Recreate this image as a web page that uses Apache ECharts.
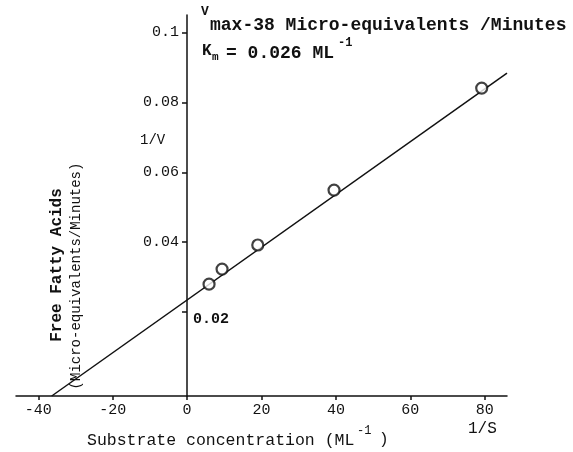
<!DOCTYPE html>
<html>
<head>
<meta charset="utf-8">
<script src="https://cdn.jsdelivr.net/npm/echarts@6/dist/echarts.min.js"></script>
<style>
  html, body { margin: 0; padding: 0; background: #fff; }
  #chart { width: 573px; height: 452px; }
</style>
</head>
<body>
<div id="chart"></div>
<script>
// measured points (1/S , 1/V)
const invS = [5.9, 9.4, 19, 39.5, 79.2];
const invV = [0.028, 0.0323, 0.0392, 0.0549, 0.0841];
// fitted line ends (the drawn x axis sits a bit below 1/V = 0)
const fitX = [-36.4, 86];
const fitY = [-0.004, 0.0884];
// tick labels
const xTicks = [-40, -20, 0, 20, 40, 60, 80];
const yTicks = [0.02, 0.04, 0.06, 0.08, 0.1];
const yLabels = [0.04, 0.06, 0.08, 0.1];
const yLabelsRight = [0.02];

const mono = '"Liberation Mono", "DejaVu Sans Mono", monospace';
const chart = echarts.init(document.getElementById('chart'));

// y axis sits at x = 0, i.e. 171px right of the grid's left edge
const yOff = -171;

chart.setOption({
  backgroundColor: '#fff',
  animation: false,
  grid: { left: 16, right: 66, top: 15, bottom: 56, outerBoundsMode: 'none', containLabel: false },
  xAxis: {
    type: 'value', min: -46, max: 86,
    splitLine: { show: false },
    axisLine: { onZero: false, lineStyle: { color: '#111', width: 1.5 } },
    axisTick: { customValues: xTicks, length: 4, lineStyle: { color: '#111', width: 1.5 } },
    axisLabel: { customValues: xTicks, color: '#111', fontFamily: mono, fontSize: 15, margin: 7 }
  },
  yAxis: [
    {
      type: 'value', min: -0.004, max: 0.105, position: 'left', offset: yOff,
      splitLine: { show: false },
      axisLine: { onZero: false, lineStyle: { color: '#111', width: 1.5 } },
      axisTick: { customValues: yTicks, length: 5, lineStyle: { color: '#111', width: 1.5 } },
      axisLabel: { customValues: yLabels, color: '#111', fontFamily: mono, fontSize: 15, margin: 8,
        formatter: v => String(+v.toFixed(3)) }
    },
    {
      type: 'value', min: -0.004, max: 0.105, position: 'left', offset: yOff,
      splitLine: { show: false },
      axisLine: { show: false, onZero: false },
      axisTick: { show: false },
      axisLabel: { customValues: yLabelsRight, inside: true, color: '#111', fontFamily: mono,
        fontSize: 15, fontWeight: 'bold', margin: 6, verticalAlign: 'top',
        formatter: v => String(+v.toFixed(3)) }
    }
  ],
  series: [
    {
      type: 'line', data: fitX.map((x, i) => [x, fitY[i]]),
      showSymbol: false, lineStyle: { color: '#111', width: 1.5 }, z: 2
    },
    {
      type: 'scatter', data: invS.map((x, i) => [x, invV[i]]),
      symbol: 'circle', symbolSize: 11,
      itemStyle: { color: '#fff', borderColor: '#111', borderWidth: 2.2 }, z: 3
    }
  ],
  graphic: [
    { type: 'text', x: 201, y: 5, style: { text: 'V', font: 'bold 13px ' + mono, fill: '#111' } },
    { type: 'text', x: 210, y: 16, style: { text: 'max-38 Micro-equivalents /Minutes', font: 'bold 18px ' + mono, fill: '#111' } },
    { type: 'text', x: 202, y: 43, style: { text: 'K', font: 'bold 16px ' + mono, fill: '#111' } },
    { type: 'text', x: 212, y: 52, style: { text: 'm', font: 'bold 11px ' + mono, fill: '#111' } },
    { type: 'text', x: 226, y: 44, style: { text: '= 0.026 ML', font: 'bold 18px ' + mono, fill: '#111' } },
    { type: 'text', x: 338, y: 37, style: { text: '-1', font: 'bold 12px ' + mono, fill: '#111' } },
    { type: 'text', x: 140, y: 133, style: { text: '1/V', font: '14px ' + mono, fill: '#111' } },
    { type: 'text', x: 468, y: 421, style: { text: '1/S', font: '16px ' + mono, fill: '#111' } },
    { type: 'text', x: 87, y: 432, style: { text: 'Substrate concentration (ML', font: '16.5px ' + mono, fill: '#111' } },
    { type: 'text', x: 357, y: 425, style: { text: '-1', font: '12px ' + mono, fill: '#111' } },
    { type: 'text', x: 379, y: 432, style: { text: ')', font: '16px ' + mono, fill: '#111' } },
    { type: 'text', x: 57, y: 265, rotation: Math.PI / 2,
      style: { text: 'Free Fatty Acids', font: 'bold 16px ' + mono, fill: '#111', textAlign: 'center', textVerticalAlign: 'middle' } },
    { type: 'text', x: 76, y: 276, rotation: Math.PI / 2,
      style: { text: '(Micro-equivalents/Minutes)', font: '14px ' + mono, fill: '#111', textAlign: 'center', textVerticalAlign: 'middle' } }
  ]
});
</script>
</body>
</html>
